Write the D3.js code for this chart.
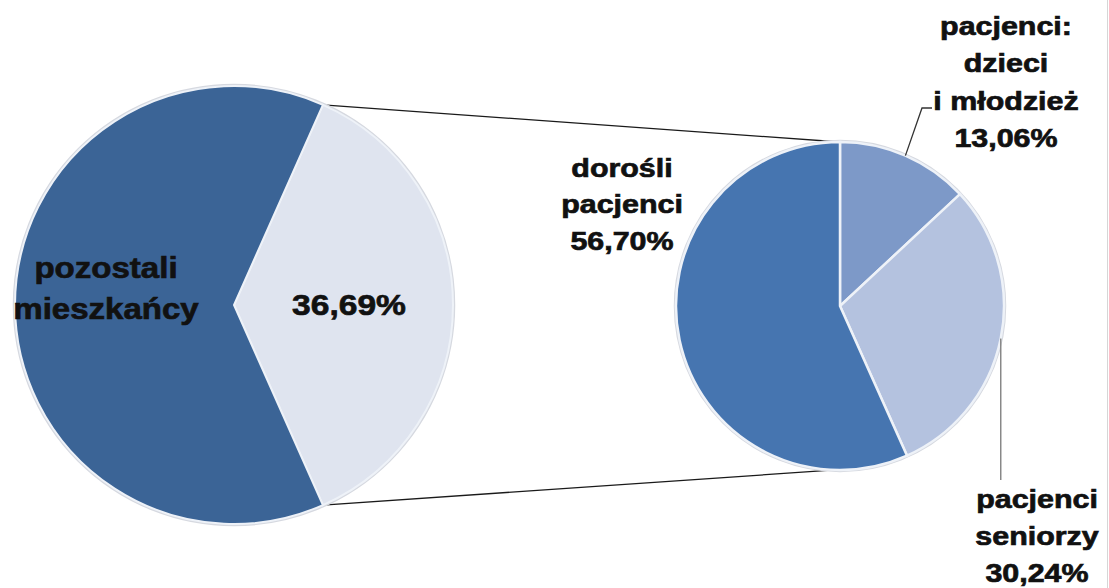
<!DOCTYPE html>
<html><head><meta charset="utf-8">
<script src="https://cdn.jsdelivr.net/npm/d3@7/dist/d3.min.js"></script>
<style>
html,body{margin:0;padding:0;background:#fff;}
svg{display:block;}
text{font-family:"Liberation Sans",Arial,sans-serif;font-weight:bold;fill:#111;stroke:#111;stroke-width:0.7px;}
</style></head>
<body>
<svg id="chart" width="1109" height="588"></svg>
<script>
// ---- data ----
const mainCategories = ["36,69%", "pozostali mieszkańcy"];
const mainValues = [36.69, 63.31];
const mainColors = ["#dfe4ef", "#3b6496"];

const subCategories = ["pacjenci: dzieci i młodzież", "pacjenci seniorzy", "dorośli pacjenci"];
const subValues = [13.06, 30.24, 56.70];
const subColors = ["#7d99c8", "#b4c2df", "#4675b0"];

const subLabelLines = [
  ["pacjenci:", "dzieci", "i młodzież", "13,06%"],
  ["pacjenci", "seniorzy", "30,24%"],
  ["dorośli", "pacjenci", "56,70%"]
];
const mainLabelLines = [["36,69%"], ["pozostali", "mieszkańcy"]];

// ---- layout ----
const svg = d3.select("#chart");
const big = {cx: 234, cy: 305, r: 219};
const small = {cx: 840, cy: 306, r: 164};

const total = d3.sum(mainValues);
const lightAngle = mainValues[0] / total * 2 * Math.PI;
const bigStart = Math.PI / 2 - lightAngle / 2;

const bigPie = d3.pie().sort(null).value(d => d)
  .startAngle(bigStart).endAngle(bigStart + 2 * Math.PI);
const smallPie = d3.pie().sort(null).value(d => d)
  .startAngle(0).endAngle(2 * Math.PI);

const bigArc = d3.arc().innerRadius(0).outerRadius(big.r);
const smallArc = d3.arc().innerRadius(0).outerRadius(small.r);

const pt = (c, a, r) => [c.cx + r * Math.sin(a), c.cy - r * Math.cos(a)];

// right border
svg.append("line").attr("x1", 1107.5).attr("x2", 1107.5).attr("y1", 0).attr("y2", 588)
  .attr("stroke", "#d6d6d6").attr("stroke-width", 1);

// connector lines
const bigArcs = bigPie(mainValues);
const smallArcs = smallPie(subValues);
const p1 = pt(big, bigArcs[0].startAngle, big.r);
const p2 = pt(big, bigArcs[0].endAngle, big.r);
const q1 = pt(small, 0, small.r);
const q2 = pt(small, Math.PI + 0.03, small.r);
svg.append("line").attr("x1", p1[0]).attr("y1", p1[1]).attr("x2", q1[0]).attr("y2", q1[1])
  .attr("stroke", "#1a1a1a").attr("stroke-width", 1.3);
svg.append("line").attr("x1", p2[0]).attr("y1", p2[1]).attr("x2", q2[0]).attr("y2", q2[1])
  .attr("stroke", "#1a1a1a").attr("stroke-width", 1.3);

// big pie
const gBig = svg.append("g").attr("transform", `translate(${big.cx},${big.cy})`);
gBig.append("circle").attr("r", big.r + 1).attr("fill", "none")
  .attr("stroke", "#d6d9e0").attr("stroke-width", 2.5);
gBig.selectAll("path").data(bigArcs).join("path")
  .attr("d", bigArc).attr("fill", (d, i) => mainColors[i])
  .attr("stroke", "#eef2f8").attr("stroke-width", 2);

// small pie
const gSmall = svg.append("g").attr("transform", `translate(${small.cx},${small.cy})`);
gSmall.append("circle").attr("r", small.r + 1).attr("fill", "none")
  .attr("stroke", "#d6d9e0").attr("stroke-width", 2.5);
gSmall.selectAll("path").data(smallArcs).join("path")
  .attr("d", smallArc).attr("fill", (d, i) => subColors[i])
  .attr("stroke", "#eef2f8").attr("stroke-width", 2.5);

// leader lines
const midA = d => (d.startAngle + d.endAngle) / 2;
const l1 = pt(small, midA(smallArcs[0]), small.r);
svg.append("polyline")
  .attr("points", [l1, [922, 108], [932, 108]].map(p => p.join(",")).join(" "))
  .attr("fill", "none").attr("stroke", "#333").attr("stroke-width", 1.3);
const l2 = pt(small, midA(smallArcs[1]), small.r);
svg.append("polyline")
  .attr("points", [l2, [l2[0], 480]].map(p => p.join(",")).join(" "))
  .attr("fill", "none").attr("stroke", "#888").attr("stroke-width", 1.5);

// labels
function label(lines, x, y0, dy, size, sx) {
  const g = svg.append("g").attr("transform", `translate(${x},${y0}) scale(${sx},1)`);
  g.selectAll("text").data(lines).join("text")
    .attr("x", 0).attr("y", (d, i) => i * dy)
    .attr("text-anchor", "middle").attr("font-size", size)
    .text(d => d);
}
label(mainLabelLines[0], 349, 315, 41, 30, 1.12);
label(mainLabelLines[1], 106, 278, 41, 29.5, 1.12);
label(subLabelLines[2], 622, 177, 36.5, 26, 1.17);
label(subLabelLines[0], 1006, 35, 37.3, 26, 1.17);
label(subLabelLines[1], 1037, 508, 37, 26, 1.17);
</script>
</body></html>
